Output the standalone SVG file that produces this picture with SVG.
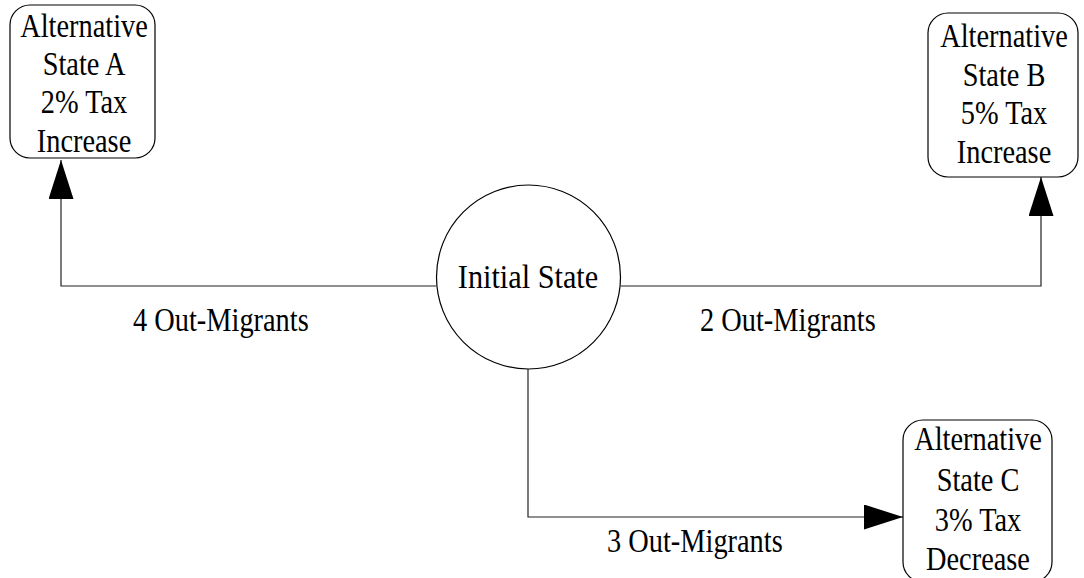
<svg xmlns="http://www.w3.org/2000/svg" width="1084" height="578" viewBox="0 0 1084 578">
<style>
.box{fill:#fff;stroke:#000;stroke-width:1.2}
.t{font-family:'Liberation Serif','DejaVu Serif',serif;font-size:33px;fill:#000;text-anchor:middle}
.lbl{font-family:'Liberation Serif','DejaVu Serif',serif;font-size:33px;fill:#000}
.edge{fill:none;stroke:#222;stroke-width:1.2}
</style>
<defs>
<marker id="arr" markerUnits="userSpaceOnUse" markerWidth="40" markerHeight="26" refX="39" refY="12.5" orient="auto">
<path d="M0,0 L39,12.5 L0,25 z" fill="#000"/>
</marker>
</defs>
<rect width="1084" height="578" fill="#fff"/>
<g id="connectors">
<polyline class="edge" points="436,286 61,286 61,160" marker-end="url(#arr)"/>
<polyline class="edge" points="621,286 1041,286 1041,177" marker-end="url(#arr)"/>
<polyline class="edge" points="528,369 528,517 903,517" marker-end="url(#arr)"/>
<g transform="translate(133,331) scale(0.86,1)"><text class="lbl" font-family="Liberation Serif" x="0" y="0">4 Out-Migrants</text></g>
<g transform="translate(700,331) scale(0.86,1)"><text class="lbl" font-family="Liberation Serif" x="0" y="0">2 Out-Migrants</text></g>
<g transform="translate(607,552) scale(0.86,1)"><text class="lbl" font-family="Liberation Serif" x="0" y="0">3 Out-Migrants</text></g>
</g>
<g id="initial">
<circle cx="528.5" cy="277" r="92" fill="#fff" stroke="#000" stroke-width="1.2"/>
<g transform="translate(528,288) scale(0.89,1)"><text class="t" x="0" y="0" style="font-size:34px">Initial State</text></g>
</g>
<g id="stateA">
<rect class="box" x="10" y="5" width="145" height="153" rx="20"/>
<g transform="translate(84,0) scale(0.86,1)">
<text class="t" x="0" y="37">Alternative</text>
<text class="t" x="0" y="75">State A</text>
<text class="t" x="0" y="113">2% Tax</text>
<text class="t" x="0" y="152">Increase</text>
</g>
</g>
<g id="stateB">
<rect class="box" x="928" y="13" width="150" height="164" rx="20"/>
<g transform="translate(1004,0) scale(0.86,1)">
<text class="t" x="0" y="47">Alternative</text>
<text class="t" x="0" y="86">State B</text>
<text class="t" x="0" y="124">5% Tax</text>
<text class="t" x="0" y="163">Increase</text>
</g>
</g>
<g id="stateC">
<rect class="box" x="903" y="420" width="149" height="162" rx="20"/>
<g transform="translate(978,0) scale(0.86,1)">
<text class="t" x="0" y="450">Alternative</text>
<text class="t" x="0" y="491">State C</text>
<text class="t" x="0" y="531">3% Tax</text>
<text class="t" x="0" y="570">Decrease</text>
</g>
</g>
</svg>
